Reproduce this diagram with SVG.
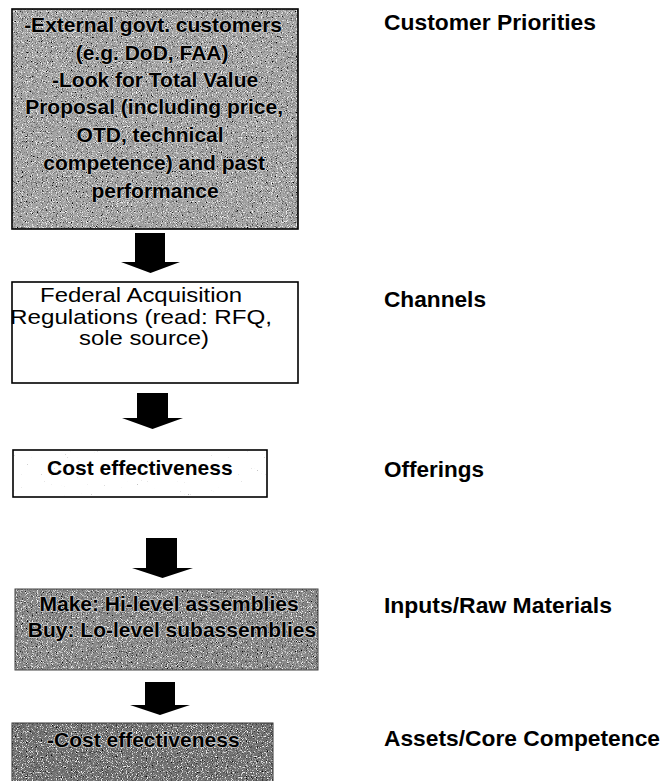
<svg xmlns="http://www.w3.org/2000/svg" width="665" height="781" viewBox="0 0 665 781">
<style>
.bx{stroke:#000;stroke-width:1.6;fill:none}
.t{font-family:"Liberation Sans",Arial,sans-serif;fill:#000}
.b{font-weight:bold;font-size:21px}
.r{font-size:21px}
.halo{stroke:#c8c8c8;stroke-width:1.6;paint-order:stroke;stroke-linejoin:round}
.lab{font-family:"Liberation Sans",Arial,sans-serif;font-weight:bold;font-size:22px;fill:#000}
.arr{fill:#000}
</style>
<defs>
<filter id="grain" x="0" y="0" width="1" height="1" filterUnits="objectBoundingBox">
<feTurbulence type="fractalNoise" baseFrequency="1.2" numOctaves="1" seed="4" result="n"/>
<feColorMatrix in="n" type="matrix" values="0 0 0 0 0  0 0 0 0 0  0 0 0 0 0  5 0 0 0 -2.75" result="dk"/>
<feColorMatrix in="n" type="matrix" values="0 0 0 0 1  0 0 0 0 1  0 0 0 0 1  -5 0 0 0 2.2" result="wt"/>
<feMerge result="m"><feMergeNode in="SourceGraphic"/><feMergeNode in="wt"/><feMergeNode in="dk"/></feMerge>
<feComposite in="m" in2="SourceAlpha" operator="in"/>
</filter>
<filter id="sparse" x="0" y="0" width="1" height="1" filterUnits="objectBoundingBox">
<feTurbulence type="fractalNoise" baseFrequency="1.3" numOctaves="1" seed="7" result="n"/>
<feColorMatrix in="n" type="matrix" values="0 0 0 0 0.3  0 0 0 0 0.3  0 0 0 0 0.3  9 0 0 0 -6.6" result="dk"/>
<feMerge result="m"><feMergeNode in="SourceGraphic"/><feMergeNode in="dk"/></feMerge>
<feComposite in="m" in2="SourceAlpha" operator="in"/>
</filter>
</defs>
<rect width="665" height="781" fill="#fff"/>

<g id="connectors">
<path class="arr" d="M135,233 H165 V262 H180 L150.5,273 L121,262 H135 Z"/>
<path class="arr" d="M137,393 H168 V418 H183 L152.5,429 L122,418 H137 Z"/>
<path class="arr" d="M146,538 H177 V568 H193 L162.5,578 L132,568 H146 Z"/>
<path class="arr" d="M145,682 H175 V705 H190 L160,715 L130,705 H145 Z"/>
</g>

<g id="customer-priorities-box">
<rect x="12" y="9" width="286" height="220" fill="#a3a3a3" filter="url(#grain)"/>
<rect class="bx" x="12" y="9" width="286" height="220"/>
<text class="t b halo" text-anchor="middle">
<tspan x="156" y="31.5">-External govt. customers</tspan>
<tspan x="155" y="59.5">(e.g. DoD, FAA)</tspan>
<tspan x="158" y="86.5">-Look for Total Value</tspan>
<tspan x="157" y="113.5">Proposal (including price,</tspan>
<tspan x="153" y="141.5">OTD, technical</tspan>
<tspan x="157" y="169.5">competence) and past</tspan>
<tspan x="155" y="198">performance</tspan>
</text>
</g>

<g id="channels-box">
<rect x="12" y="282" width="286" height="101" fill="#fff"/>
<rect class="bx" x="12" y="282" width="286" height="101"/>
<text class="t r" text-anchor="middle">
<tspan x="144" y="302" textLength="202" lengthAdjust="spacingAndGlyphs">Federal Acquisition</tspan>
<tspan x="144" y="324" textLength="262" lengthAdjust="spacingAndGlyphs">Regulations (read: RFQ,</tspan>
<tspan x="144" y="345" textLength="130" lengthAdjust="spacingAndGlyphs">sole source)</tspan>
</text>
</g>

<g id="offerings-box">
<rect x="13" y="450" width="254" height="47" fill="#fff" filter="url(#sparse)"/>
<rect class="bx" x="13" y="450" width="254" height="47"/>
<text class="t b" x="47" y="475">Cost effectiveness</text>
</g>

<g id="inputs-box">
<rect x="15" y="589" width="303" height="81" fill="#8a8a8a" filter="url(#grain)"/>
<rect x="15" y="589" width="303" height="81" fill="none" stroke="#444" stroke-width="1"/>
<text class="t b halo" text-anchor="middle">
<tspan x="172" y="611">Make: Hi-level assemblies</tspan>
<tspan x="172" y="637">Buy: Lo-level subassemblies</tspan>
</text>
</g>

<g id="assets-box">
<rect x="12" y="723" width="261" height="60" fill="#737373" filter="url(#grain)"/>
<rect x="12" y="723" width="261" height="60" fill="none" stroke="#333" stroke-width="1"/>
<text class="t b halo" x="47" y="747" fill="#1a1a1a">-Cost effectiveness</text>
</g>

<g id="labels">
<text class="lab" x="384" y="30" textLength="212" lengthAdjust="spacingAndGlyphs">Customer Priorities</text>
<text class="lab" x="384" y="307" textLength="102" lengthAdjust="spacingAndGlyphs">Channels</text>
<text class="lab" x="384" y="477" textLength="100" lengthAdjust="spacingAndGlyphs">Offerings</text>
<text class="lab" x="384" y="613" textLength="228" lengthAdjust="spacingAndGlyphs">Inputs/Raw Materials</text>
<text class="lab" x="384" y="746" textLength="276" lengthAdjust="spacingAndGlyphs">Assets/Core Competence</text>
</g>
</svg>
